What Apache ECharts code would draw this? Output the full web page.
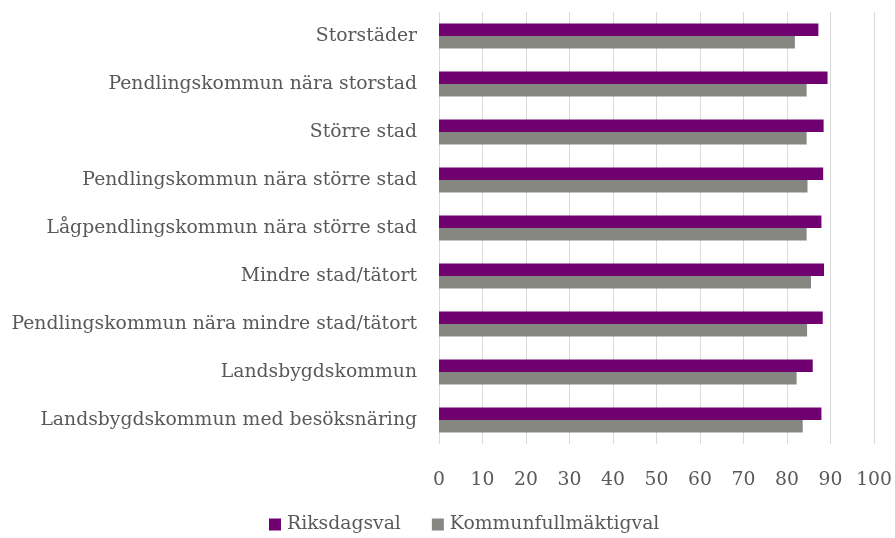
<!DOCTYPE html>
<html>
<head>
<meta charset="utf-8">
<script src="https://cdn.jsdelivr.net/npm/echarts@6/dist/echarts.min.js"></script>
<style>
  html, body { margin: 0; padding: 0; background: #fff; }
  #chart { width: 895px; height: 538px; }
</style>
</head>
<body>
<div id="chart"></div>
<script>
// Municipality groups (top to bottom)
const categories = [
  'Storstäder',
  'Pendlingskommun nära storstad',
  'Större stad',
  'Pendlingskommun nära större stad',
  'Lågpendlingskommun nära större stad',
  'Mindre stad/tätort',
  'Pendlingskommun nära mindre stad/tätort',
  'Landsbygdskommun',
  'Landsbygdskommun med besöksnäring'
];

// Turnout per election type (%)
const riksdagsval = [87.2, 89.3, 88.4, 88.3, 87.9, 88.5, 88.2, 85.9, 87.9];
const kommunfullmaktigval = [81.8, 84.5, 84.5, 84.7, 84.5, 85.5, 84.6, 82.2, 83.6];

const xTicks = [0, 10, 20, 30, 40, 50, 60, 70, 80, 90, 100];

const FONT = 'DejaVu Serif';
const TEXT = '#595959';
const SIZE = 18.8;

const chart = echarts.init(document.getElementById('chart'), null, { renderer: 'canvas' });

chart.setOption({
  animation: false,
  textStyle: { fontFamily: FONT },
  grid: { left: 439, right: 19, top: 12, bottom: 94, containLabel: false },
  legend: {
    bottom: -1,
    left: 264,
    itemWidth: 12,
    itemHeight: 12,
    itemGap: 31,
    icon: 'rect',
    textStyle: { fontFamily: FONT, fontSize: SIZE, color: TEXT, padding: [0, 0, 0, 1] },
    data: ['Riksdagsval', 'Kommunfullmäktigval']
  },
  xAxis: {
    type: 'value',
    min: xTicks[0],
    max: xTicks[xTicks.length - 1],
    interval: 10,
    axisLine: { show: false },
    axisTick: { show: false },
    splitLine: { show: true, lineStyle: { color: '#d9d9d9', width: 1 } },
    axisLabel: { fontFamily: FONT, fontSize: SIZE, color: TEXT, margin: 27 }
  },
  yAxis: {
    type: 'category',
    inverse: true,
    data: categories,
    axisLine: { show: false },
    axisTick: { show: false },
    splitLine: { show: false },
    axisLabel: { fontFamily: FONT, fontSize: SIZE, color: TEXT, margin: 22 }
  },
  series: [
    {
      name: 'Riksdagsval',
      type: 'bar',
      data: riksdagsval,
      barWidth: 12.5,
      barGap: '0%',
      itemStyle: { color: '#70006f' }
    },
    {
      name: 'Kommunfullmäktigval',
      type: 'bar',
      data: kommunfullmaktigval,
      barWidth: 12.5,
      barGap: '0%',
      itemStyle: { color: '#878782' }
    }
  ]
});
</script>
</body>
</html>
